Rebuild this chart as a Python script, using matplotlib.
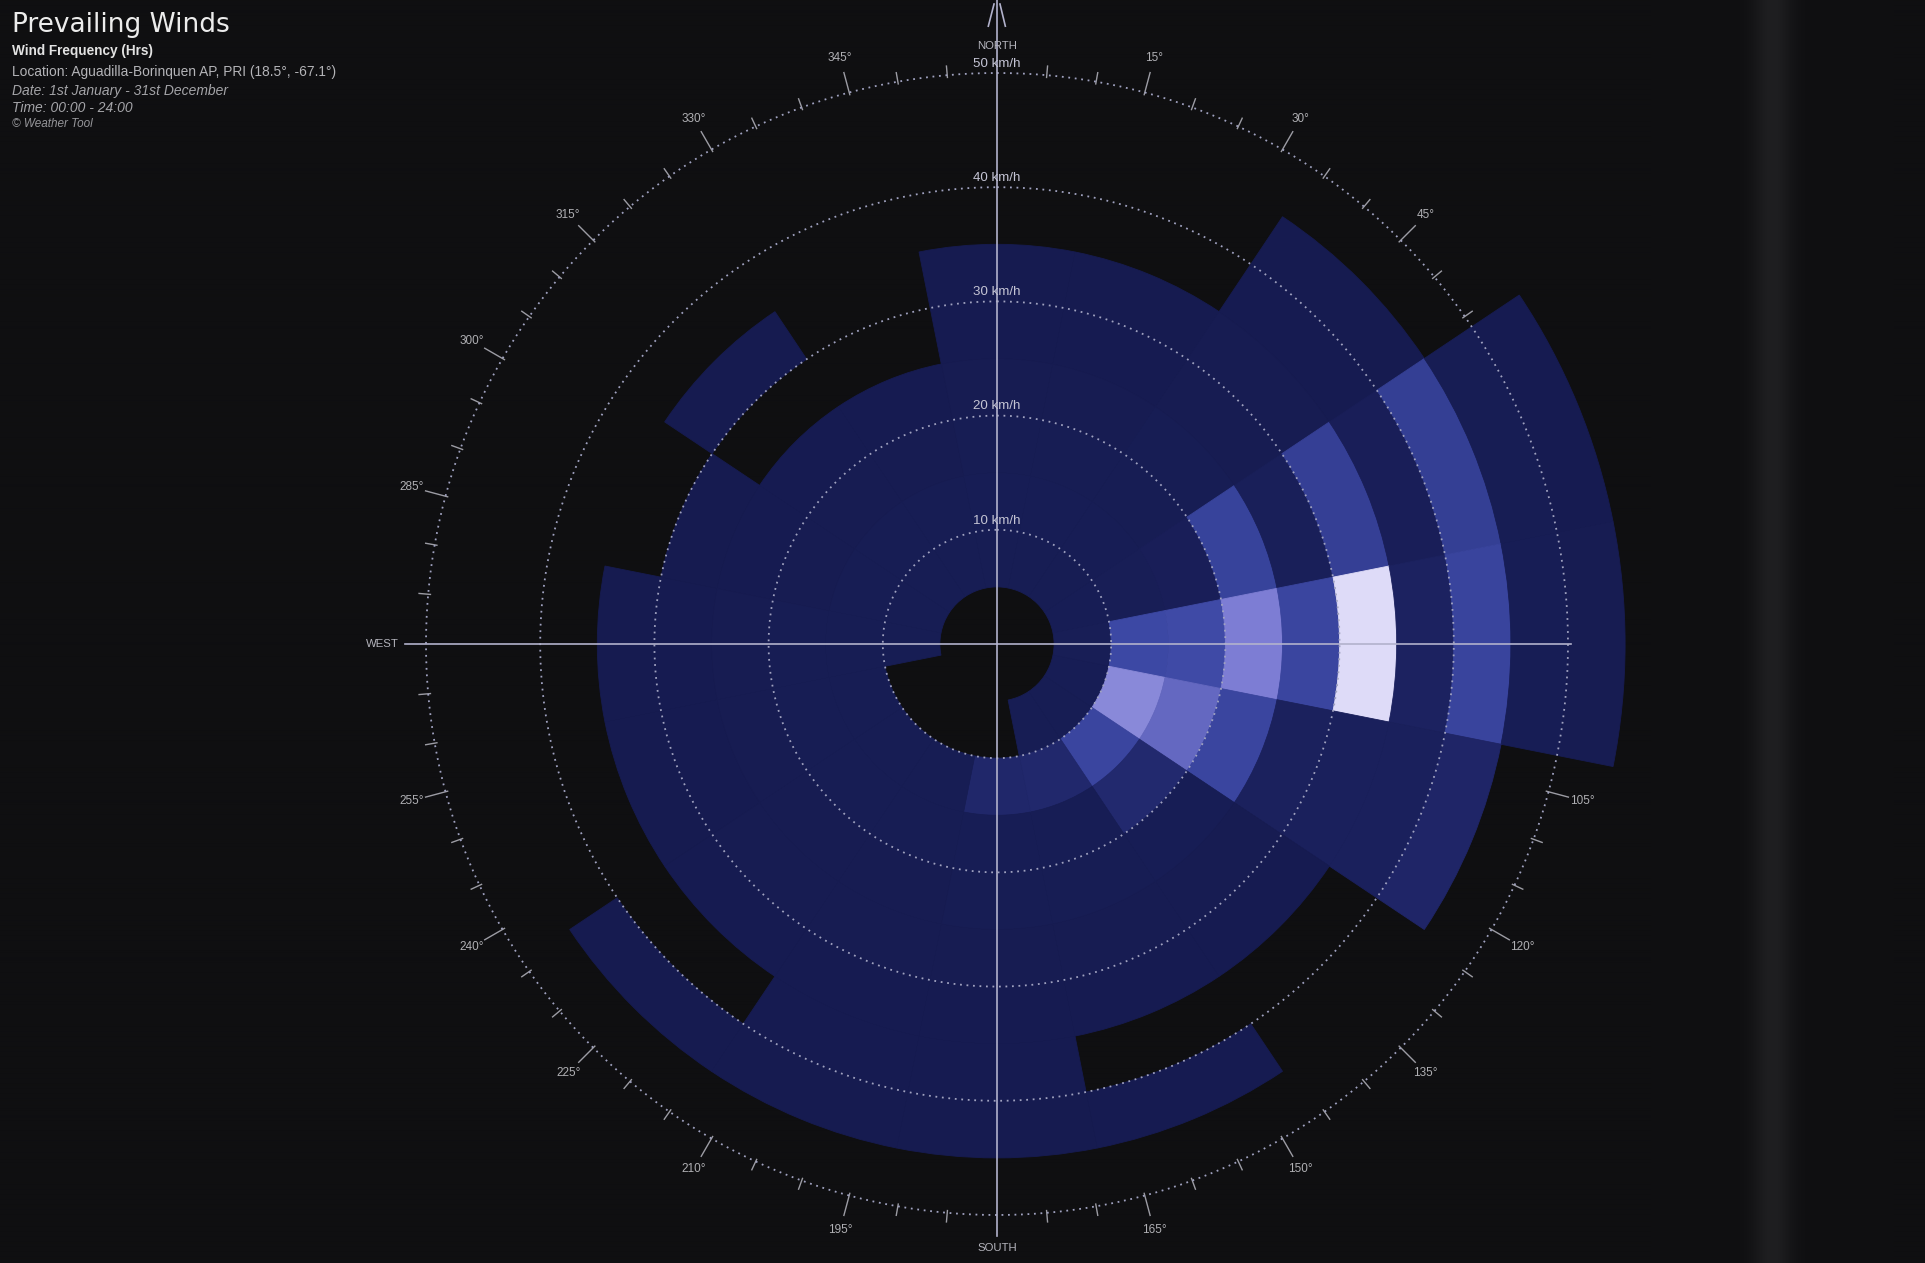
import numpy as np
import matplotlib
matplotlib.use("Agg")
import matplotlib.pyplot as plt
from matplotlib.colors import LinearSegmentedColormap, Normalize

plt.rcParams['font.family'] = ['Liberation Sans', 'DejaVu Sans']

# ---- wind data: hours per direction sector and 5 km/h speed band ----
directions = ["N", "NNE", "NE", "ENE", "E", "ESE", "SE", "SSE",
              "S", "SSW", "SW", "WSW", "W", "WNW", "NW", "NNW"]
direction_deg = [0, 22.5, 45, 67.5, 90, 112.5, 135, 157.5,
                 180, 202.5, 225, 247.5, 270, 292.5, 315, 337.5]
speed_edges = [0, 5, 10, 15, 20, 25, 30, 35, 40, 45, 50, 55]

#           0-5 5-10 10-15 15-20 20-25 25-30 30-35 35-40 40-45 45-50 50-55
hrs_N   = [0, 12, 14, 12, 10, 8, 6, 0, 0, 0, 0]
hrs_NNE = [0, 12, 14, 12, 10, 8, 6, 0, 0, 0, 0]
hrs_NE  = [0, 12, 14, 12, 12, 10, 10, 8, 6, 0, 0]
hrs_ENE = [0, 14, 16, 18, 95, 20, 90, 18, 88, 12, 8]
hrs_E   = [0, 16, 105, 108, 180, 100, 300, 30, 98, 14, 10]
hrs_ESE = [0, 14, 195, 150, 100, 26, 24, 24, 40, 0, 0]
hrs_SE  = [0, 12, 100, 50, 14, 10, 8, 0, 0, 0, 0]
hrs_SSE = [0, 12, 48, 14, 12, 10, 8, 0, 8, 0, 0]
hrs_S   = [0, 0, 45, 14, 12, 10, 8, 8, 6, 0, 0]
hrs_SSW = [0, 0, 12, 12, 10, 10, 8, 8, 6, 0, 0]
hrs_SW  = [0, 0, 12, 12, 10, 10, 8, 0, 6, 0, 0]
hrs_WSW = [0, 0, 12, 12, 10, 8, 6, 0, 0, 0, 0]
hrs_W   = [0, 12, 12, 12, 10, 8, 6, 0, 0, 0, 0]
hrs_WNW = [0, 12, 12, 10, 8, 6, 0, 0, 0, 0, 0]
hrs_NW  = [0, 12, 12, 10, 8, 0, 6, 0, 0, 0, 0]
hrs_NNW = [0, 12, 12, 10, 8, 0, 0, 0, 0, 0, 0]

hours_by_direction = [hrs_N, hrs_NNE, hrs_NE, hrs_ENE, hrs_E, hrs_ESE, hrs_SE, hrs_SSE,
                      hrs_S, hrs_SSW, hrs_SW, hrs_WSW, hrs_W, hrs_WNW, hrs_NW, hrs_NNW]

ring_speeds = [10, 20, 30, 40, 50]
degree_labels = [a for a in range(15, 360, 15) if a % 90 != 0]

# ---- figure layout ----
W, H, DPI = 1925, 1263, 100
BG = '#0f0f11'
fig = plt.figure(figsize=(W / DPI, H / DPI), dpi=DPI, facecolor=BG)

# dark backdrop with the faint vertical scan streak on the right
bg_ax = fig.add_axes([0, 0, 1, 1], zorder=-5)
xs = np.arange(W)
streak = 16 * np.exp(-0.5 * ((xs - 1772) / 14.0) ** 2)
row = np.clip(np.stack([15 + streak, 15 + streak, 17 + streak], axis=-1), 0, 255) / 255
bg_img = np.repeat(row[None, :, :], 8, axis=0)
bg_ax.imshow(bg_img, aspect='auto', extent=[0, W, 0, H], interpolation='bilinear')
bg_ax.set_xlim(0, W)
bg_ax.set_ylim(0, H)
bg_ax.axis('off')

PX_PER_KMH = 11.42
R_MAX = 56.0
cx, cy = 997, 644
half = R_MAX * PX_PER_KMH
ax = fig.add_axes([(cx - half) / W, (H - cy - half) / H, 2 * half / W, 2 * half / H],
                  projection='polar')
ax.set_theta_zero_location('N')
ax.set_theta_direction(-1)
ax.axis('off')

cmap = LinearSegmentedColormap.from_list(
    'wind_freq',
    [(0.00, (20 / 255, 25 / 255, 76 / 255)),
     (0.15, (32 / 255, 39 / 255, 106 / 255)),
     (0.35, (60 / 255, 72 / 255, 164 / 255)),
     (0.60, (125 / 255, 125 / 255, 212 / 255)),
     (1.00, (222 / 255, 219 / 255, 248 / 255))])
norm = Normalize(0, 300)

sector_width = np.deg2rad(22.5)
edges = np.array(speed_edges, dtype=float)
for deg, row_vals in zip(direction_deg, hours_by_direction):
    vals = np.array(row_vals, dtype=float)
    keep = vals > 0
    colors = cmap(norm(vals[keep]))
    ax.bar(np.full(keep.sum(), np.deg2rad(deg)), np.diff(edges)[keep],
           width=sector_width, bottom=edges[:-1][keep], color=colors,
           edgecolor=colors, linewidth=0.6, zorder=2, align='center')

# ---- compass ring, ticks and degree labels (beneath the cells) ----
tick_col = '#9c9ca4'
for a in range(5, 360, 5):
    if a % 90 == 0:
        continue
    th = np.deg2rad(a)
    r1 = 51.8 if a % 15 == 0 else 50.8
    ax.plot([th, th], [49.8, r1], color=tick_col, lw=1.0, zorder=1, clip_on=False)
for a in degree_labels:
    ax.text(np.deg2rad(a), 53.1, f"{a}\u00b0", ha='center', va='center',
            fontsize=8.5, color='#b0b0b4', zorder=1, clip_on=False)

# ---- dotted speed rings on top of the cells ----
theta = np.linspace(0, 2 * np.pi, 1441)
for r in ring_speeds:
    ax.plot(theta, np.full_like(theta, r), color='#a0a2c0', lw=1.3,
            ls=(0, (1, 2.6)), zorder=5, clip_on=False)
    ax.text(0, r + 0.55, f"{r} km/h", ha='center', va='baseline', fontsize=9.6,
            color='#c4c4d4', zorder=7, clip_on=False)

# ---- cross hairs ----
line_col = '#b2b2cc'
ax.plot([0, 0], [0, 56.4], color=line_col, lw=1.2, zorder=6, clip_on=False)
ax.plot([np.pi, np.pi], [0, 51.8], color=line_col, lw=1.2, zorder=6, clip_on=False)
ax.plot([np.pi / 2, np.pi / 2], [0, 50.3], color=line_col, lw=1.2, zorder=6, clip_on=False)
ax.plot([1.5 * np.pi, 1.5 * np.pi], [0, 51.8], color=line_col, lw=1.2, zorder=6, clip_on=False)

# north arrow strokes
for x0, y0, x1, y1 in [(-0.76, 54.1, -0.26, 56.04), (0.73, 54.1, 0.26, 56.04)]:
    ax.plot([np.arctan2(x0, y0), np.arctan2(x1, y1)], [np.hypot(x0, y0), np.hypot(x1, y1)],
            color=line_col, lw=1.2, zorder=6, clip_on=False)

card_kw = dict(fontsize=8.2, color='#b4b4bc', zorder=7, clip_on=False)
ax.text(0, 52.1, "NORTH", ha='center', va='baseline', **card_kw)
ax.text(np.pi, 52.9, "SOUTH", ha='center', va='center', **card_kw)
ax.text(1.5 * np.pi, 52.4, "WEST", ha='right', va='center', **card_kw)

ax.set_ylim(0, R_MAX)

# ---- header block ----
fig.text(12 / W, 1 - 32 / H, "Prevailing Winds", fontsize=19, family='DejaVu Sans',
         color='#ececec', va='baseline', ha='left')
fig.text(12 / W, 1 - 55 / H, "Wind Frequency (Hrs)", fontsize=9.8, fontweight='bold',
         color='#e2e2e2', va='baseline', ha='left')
fig.text(12 / W, 1 - 76 / H, "Location: Aguadilla-Borinquen AP, PRI (18.5\u00b0, -67.1\u00b0)",
         fontsize=9.9, color='#b4b4b8', va='baseline', ha='left')
fig.text(12 / W, 1 - 95 / H, "Date: 1st January - 31st December", fontsize=10,
         style='italic', color='#a4a4a8', va='baseline', ha='left')
fig.text(12 / W, 1 - 112 / H, "Time: 00:00 - 24:00", fontsize=10, style='italic',
         color='#a4a4a8', va='baseline', ha='left')
fig.text(12 / W, 1 - 127 / H, "\u00a9 Weather Tool", fontsize=8.5, style='italic',
         color='#96969a', va='baseline', ha='left')

fig.savefig('out.png', dpi=DPI, facecolor=BG)
